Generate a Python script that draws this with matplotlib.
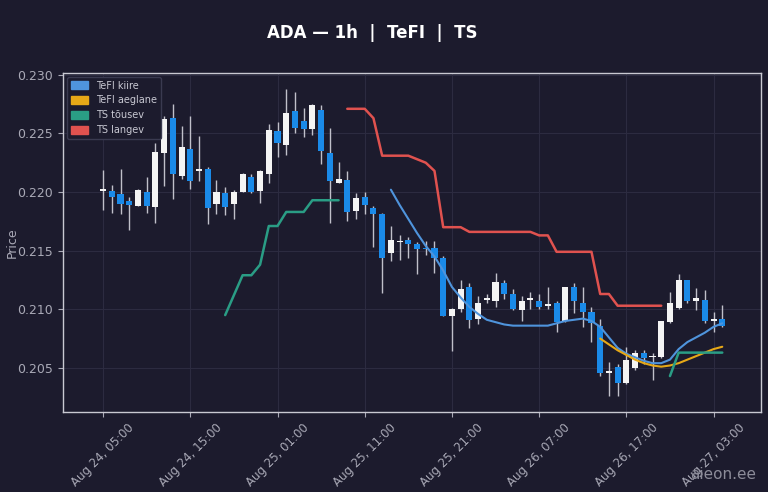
import numpy as np
import pandas as pd
import matplotlib
matplotlib.use("Agg")
import matplotlib.pyplot as plt
import matplotlib.dates as mdates
from matplotlib.patches import Patch

# hourly candles, Aug 24 05:00 -> Aug 27 04:00
times = pd.date_range("2025-08-24 05:00", periods=72, freq="h")

opens = [0.2201, 0.2201, 0.2198, 0.2192, 0.2188, 0.2200, 0.2187, 0.2233, 0.2263, 0.2214,
         0.2237, 0.2218, 0.2220, 0.2190, 0.2199, 0.2190, 0.2200, 0.2213, 0.2201, 0.2215,
         0.2252, 0.2240, 0.2269, 0.2261, 0.2254, 0.2270, 0.2233, 0.2208, 0.2210, 0.2184,
         0.2196, 0.2186, 0.2181, 0.2148, 0.2157, 0.2159, 0.2156, 0.2152, 0.2152, 0.2144,
         0.2094, 0.2100, 0.2119, 0.2092, 0.2108, 0.2107, 0.2122, 0.2113, 0.2099, 0.2108,
         0.2107, 0.2103, 0.2105, 0.2090, 0.2119, 0.2105, 0.2098, 0.2086, 0.2046, 0.2051,
         0.2037, 0.2050, 0.2063, 0.2059, 0.2059, 0.2089, 0.2101, 0.2125, 0.2107, 0.2108,
         0.2090, 0.2092]
highs = [0.2219, 0.2206, 0.2220, 0.2196, 0.2203, 0.2213, 0.2242, 0.2265, 0.2275, 0.2256,
         0.2265, 0.2248, 0.2221, 0.2210, 0.2204, 0.2202, 0.2216, 0.2215, 0.2219, 0.2258,
         0.2260, 0.2288, 0.2285, 0.2272, 0.2275, 0.2274, 0.2255, 0.2226, 0.2218, 0.2199,
         0.2200, 0.2188, 0.2182, 0.2171, 0.2163, 0.2162, 0.2157, 0.2158, 0.2158, 0.2145,
         0.2101, 0.2125, 0.2122, 0.2111, 0.2113, 0.2131, 0.2125, 0.2117, 0.2111, 0.2115,
         0.2113, 0.2119, 0.2107, 0.2119, 0.2122, 0.2119, 0.2102, 0.2092, 0.2055, 0.2053,
         0.2068, 0.2065, 0.2065, 0.2063, 0.2090, 0.2115, 0.2130, 0.2125, 0.2118, 0.2116,
         0.2098, 0.2104]
lows = [0.2185, 0.2182, 0.2181, 0.2168, 0.2188, 0.2182, 0.2174, 0.2205, 0.2194, 0.2211,
        0.2203, 0.2209, 0.2173, 0.2181, 0.2180, 0.2177, 0.2200, 0.2199, 0.2191, 0.2208,
        0.2230, 0.2232, 0.2250, 0.2247, 0.2249, 0.2224, 0.2174, 0.2208, 0.2175, 0.2177,
        0.2181, 0.2153, 0.2114, 0.2141, 0.2142, 0.2144, 0.2130, 0.2146, 0.2131, 0.2094,
        0.2064, 0.2098, 0.2084, 0.2087, 0.2105, 0.2102, 0.2109, 0.2099, 0.2090, 0.2100,
        0.2100, 0.2100, 0.2081, 0.2089, 0.2097, 0.2085, 0.2072, 0.2043, 0.2026, 0.2026,
        0.2036, 0.2048, 0.2053, 0.2040, 0.2058, 0.2088, 0.2100, 0.2105, 0.2099, 0.2088,
        0.2081, 0.2085]
closes = [0.22012, 0.2196, 0.2190, 0.2189, 0.2202, 0.2188, 0.2234, 0.2262, 0.2215, 0.2238,
          0.2209, 0.2220, 0.2186, 0.2200, 0.2187, 0.2200, 0.2215, 0.2200, 0.2218, 0.2253,
          0.2242, 0.2267, 0.2255, 0.2254, 0.2274, 0.2235, 0.2209, 0.2211, 0.2183, 0.2195,
          0.2189, 0.2181, 0.2144, 0.2159, 0.2158, 0.2156, 0.2151, 0.2151, 0.2144, 0.2094,
          0.2100, 0.2117, 0.2091, 0.2105, 0.2109, 0.2123, 0.2113, 0.2100, 0.2107, 0.21082,
          0.2102, 0.21032, 0.2089, 0.2119, 0.2107, 0.2098, 0.2088, 0.2046, 0.2047, 0.2037,
          0.2057, 0.2063, 0.2058, 0.2060, 0.2090, 0.2105, 0.2125, 0.2107, 0.2110, 0.2090,
          0.2092, 0.2086]

# TeFI kiire from candle 33, TeFI aeglane from candle 57
tefi_fast = [0.2202, 0.2189, 0.2177, 0.2165, 0.2154, 0.2145, 0.2133, 0.2119, 0.2110, 0.2102,
             0.2096, 0.2091, 0.2089, 0.2087, 0.2086, 0.2086, 0.2086, 0.2086, 0.2086, 0.2088,
             0.2090, 0.2091, 0.2092, 0.2090, 0.2085, 0.2076, 0.2067, 0.2062, 0.2059, 0.2056,
             0.2054, 0.2054, 0.2057, 0.2066, 0.2072, 0.2076, 0.2080, 0.2085, 0.2088]
tefi_slow = [0.2075, 0.2070, 0.2065, 0.2061, 0.2057, 0.2054, 0.2052, 0.2051, 0.2052, 0.2054,
             0.2057, 0.2060, 0.2063, 0.2066, 0.2068]

# trailing stops
ts_up_1 = [0.2095, 0.2112, 0.2129, 0.2129, 0.2138, 0.2171, 0.2171, 0.2183, 0.2183, 0.2183,
           0.2193, 0.2193, 0.2193, 0.2193]            # candles 14..27
ts_up_2 = [0.2043, 0.2063, 0.2063, 0.2063, 0.2063, 0.2063, 0.2063]   # candles 65..71
ts_down = [0.2271, 0.2271, 0.2271, 0.2263, 0.2231, 0.2231, 0.2231, 0.2231, 0.2228, 0.2225,
           0.2218, 0.2170, 0.2170, 0.2170, 0.2166, 0.2166, 0.2166, 0.2166, 0.2166, 0.2166,
           0.2166, 0.2166, 0.2163, 0.2163, 0.2149, 0.2149, 0.2149, 0.2149, 0.2149, 0.2113,
           0.2113, 0.2103, 0.2103, 0.2103, 0.2103, 0.2103, 0.2103]   # candles 28..64

bg = "#1c1b2d"
up_col = "#f4f4f4"
down_col = "#1a8ae8"
wick_col = "#c0c0ca"
fast_col = "#4f94dc"
slow_col = "#e6a817"
tsu_col = "#2a9d85"
tsd_col = "#e0524f"

fig = plt.figure(figsize=(7.68, 4.92), dpi=100, facecolor=bg)
ax = fig.add_axes([0.082, 0.163, 0.909, 0.689])
ax.set_facecolor(bg)

o = np.array(opens)
c = np.array(closes)
h = np.array(highs)
l = np.array(lows)
body_lo = np.minimum(o, c)
body_h = np.maximum(np.abs(c - o), 0.00012)
cols = [up_col if cc >= oo else down_col for oo, cc in zip(o, c)]

ax.vlines(times, l, h, color=wick_col, lw=1.0, zorder=2)
ax.bar(times, body_h, bottom=body_lo, width=0.7 / 24, color=cols, edgecolor="none", zorder=3)

line_kw = dict(solid_joinstyle="round", solid_capstyle="round", zorder=4)
ax.plot(times[33:33 + len(tefi_fast)], tefi_fast, color=fast_col, lw=1.5, **line_kw)
ax.plot(times[57:57 + len(tefi_slow)], tefi_slow, color=slow_col, lw=1.5, **line_kw)
ax.plot(times[14:14 + len(ts_up_1)], ts_up_1, color=tsu_col, lw=1.8, **line_kw)
ax.plot(times[65:65 + len(ts_up_2)], ts_up_2, color=tsu_col, lw=1.8, **line_kw)
ax.plot(times[28:28 + len(ts_down)], ts_down, color=tsd_col, lw=1.8, **line_kw)

# axes limits / ticks
t0 = mdates.date2num(times[0])
ax.set_xlim(t0 - 4.6 / 24, t0 + 75.45 / 24)
ax.set_ylim(0.20125, 0.23017)
ax.set_yticks([0.205, 0.210, 0.215, 0.220, 0.225, 0.230])
ax.yaxis.set_major_formatter(plt.FormatStrFormatter("%.3f"))
ax.set_xticks(times[::10])
ax.xaxis.set_major_formatter(mdates.DateFormatter("%b %d, %H:%M"))
plt.setp(ax.get_xticklabels(), rotation=45, ha="center")

ax.tick_params(colors="#a9a9b6", labelsize=9)
ax.tick_params(axis="x", labelsize=8.5)
ax.grid(True, color="#2c2b40", lw=0.8)
ax.set_axisbelow(True)
for s in ax.spines.values():
    s.set_color("#c9c9d2")
    s.set_linewidth(1.0)

ax.set_ylabel("Price", color="#a9a9b6", fontsize=9)
ax.yaxis.set_label_coords(-0.064, 0.5)
fig.text(0.485, 0.932, "ADA \u2014 1h  |  TeFI  |  TS", color="white",
         fontsize=12, fontweight="bold", ha="center", va="center")

handles = [Patch(color=fast_col, label="TeFI kiire"),
           Patch(color=slow_col, label="TeFI aeglane"),
           Patch(color=tsu_col, label="TS t\u00f5usev"),
           Patch(color=tsd_col, label="TS langev")]
leg = ax.legend(handles=handles, loc="upper left", fontsize=7, facecolor=bg,
                edgecolor="#3a3a50", labelcolor="#c8c8d2", framealpha=1.0,
                handlelength=1.8, handleheight=0.8, borderaxespad=0.4)

fig.text(0.985, 0.035, "aieon.ee", color="#8c8c99", fontsize=11, ha="right", va="center")

fig.savefig("out.png", dpi=100, facecolor=bg)
